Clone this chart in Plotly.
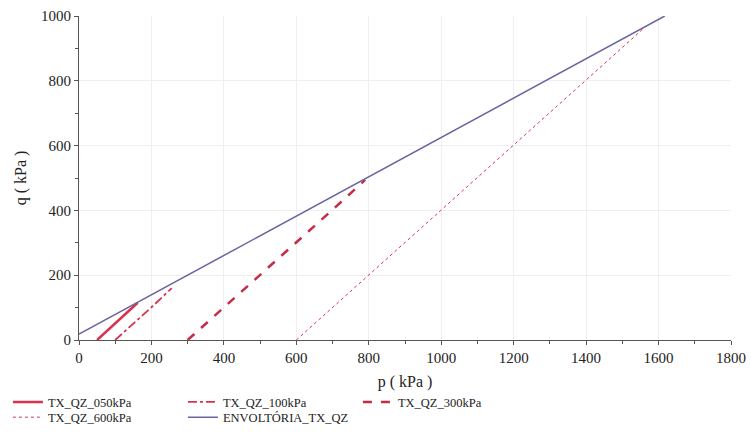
import plotly.graph_objects as go

# Triaxial stress paths (p, q in kPa) and the failure envelope
p_050 = [50, 80, 110, 140, 162]
q_050 = [0, 31, 62, 93, 115]

p_100 = [100, 150, 200, 256]
q_100 = [0, 50, 101, 160]

p_300 = [300, 450, 600, 700, 790]
q_300 = [0, 150, 300, 402, 494]

p_600 = [600, 800, 1000, 1200, 1400, 1563]
q_600 = [0, 200, 400, 600, 800, 966]

p_env = [0, 1617]
q_env = [18, 1000]

RED = "#d8324f"
ENV = "#6b64a0"
FONT = "Liberation Serif, Times New Roman, serif"
TXT = "#222222"

fig = go.Figure()
fig.add_trace(go.Scatter(x=p_050, y=q_050, mode="lines", name="TX_QZ_050kPa",
                         line=dict(color=RED, width=2.5), legend="legend"))
fig.add_trace(go.Scatter(x=p_100, y=q_100, mode="lines", name="TX_QZ_100kPa",
                         line=dict(color=RED, width=1.8, dash="dashdot"), legend="legend"))
fig.add_trace(go.Scatter(x=p_300, y=q_300, mode="lines", name="TX_QZ_300kPa",
                         line=dict(color="#c42c48", width=2.5, dash="dash"), legend="legend"))
fig.add_trace(go.Scatter(x=p_600, y=q_600, mode="lines", name="TX_QZ_600kPa",
                         line=dict(color=RED, width=1, dash="dot"), legend="legend2"))
fig.add_trace(go.Scatter(x=p_env, y=q_env, mode="lines", name="ENVOLTÓRIA_TX_QZ",
                         line=dict(color=ENV, width=1.5), legend="legend2"))

axis_common = dict(
    showline=True, linecolor="#555555", linewidth=1,
    showgrid=True, gridcolor="#efefef", gridwidth=1,
    ticks="outside", ticklen=4, tickcolor="#555555",
    tickfont=dict(family=FONT, size=15, color=TXT),
    zeroline=False,
    minor=dict(dtick=100, ticks="outside", ticklen=3, tickcolor="#555555", showgrid=False),
)

fig.update_xaxes(range=[0, 1800], dtick=200, tick0=0,
                 title=dict(text="p ( kPa )", font=dict(family=FONT, size=16, color=TXT),
                            standoff=10),
                 **axis_common)
fig.update_yaxes(range=[0, 1000], dtick=200, tick0=0,
                 title=dict(text="q ( kPa )", font=dict(family=FONT, size=16, color=TXT),
                            standoff=10),
                 **axis_common)

legend_common = dict(orientation="h", x=-0.109, xanchor="left", yanchor="top",
                     entrywidth=130, entrywidthmode="pixels",
                     font=dict(family=FONT, size=12.5, color=TXT),
                     itemwidth=30, bgcolor="rgba(0,0,0,0)")

fig.update_layout(
    width=751, height=441,
    margin=dict(l=79, r=20, t=16, b=101, autoexpand=False),
    plot_bgcolor="white", paper_bgcolor="white",
    font=dict(family=FONT, size=14, color=TXT),
    legend=dict(y=-0.146, **legend_common),
    legend2=dict(y=-0.193, **legend_common),
)

fig.write_html("out.html")
